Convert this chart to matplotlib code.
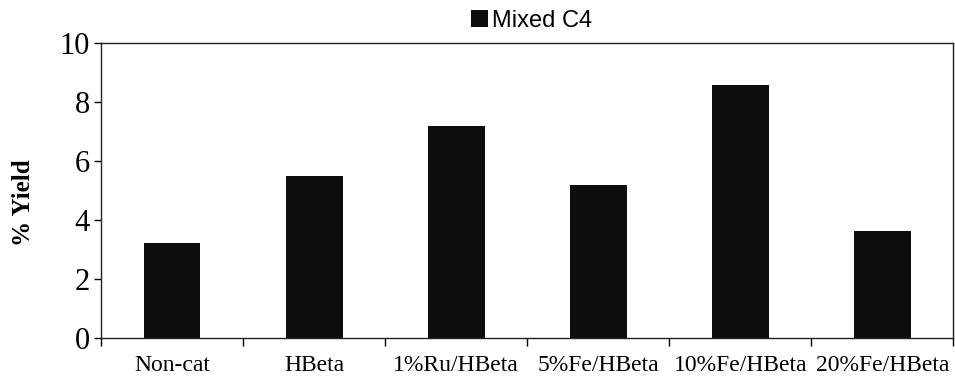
import numpy as np
import matplotlib.pyplot as plt

categories = ['Non-cat', 'HBeta', '1%Ru/HBeta', '5%Fe/HBeta', '10%Fe/HBeta', '20%Fe/HBeta']
mixed_c4 = [3.22, 5.49, 7.19, 5.19, 8.58, 3.63]

plt.rcParams['font.family'] = 'Liberation Serif'

fig = plt.figure(figsize=(9.55, 3.78), dpi=100)
ax = fig.add_axes([0.1058, 0.1058, 0.8925, 0.78])

x = np.arange(len(categories))
bars = ax.bar(x, mixed_c4, width=0.4, color='#0d0d0d', label='Mixed C4')

ax.set_xlim(-0.5, len(categories) - 0.5)
ax.set_ylim(0, 10)
ax.set_yticks([0, 2, 4, 6, 8, 10])
ax.tick_params(axis='y', labelsize=22, direction='out', length=5, width=1, pad=3)

ax.set_xticks(x)
ax.set_xticklabels(categories, fontsize=17)
ax.tick_params(axis='x', which='major', length=0, pad=12)
ax.set_xticks(np.arange(-0.5, len(categories)), minor=True)
ax.tick_params(axis='x', which='minor', direction='out', length=6, width=1)

for s in ax.spines.values():
    s.set_linewidth(1)
    s.set_color('#222222')

ax.set_ylabel('% Yield', fontsize=18, fontweight='bold', labelpad=12)
ax.yaxis.set_label_coords(-0.077, 0.46)

leg = ax.legend(loc='lower center', bbox_to_anchor=(0.505, 0.99), frameon=False,
                prop={'family': 'Liberation Sans', 'size': 17},
                handlelength=0.75, handleheight=0.75, handletextpad=0.15,
                borderpad=0.1)

fig.savefig('out.png', dpi=100)
